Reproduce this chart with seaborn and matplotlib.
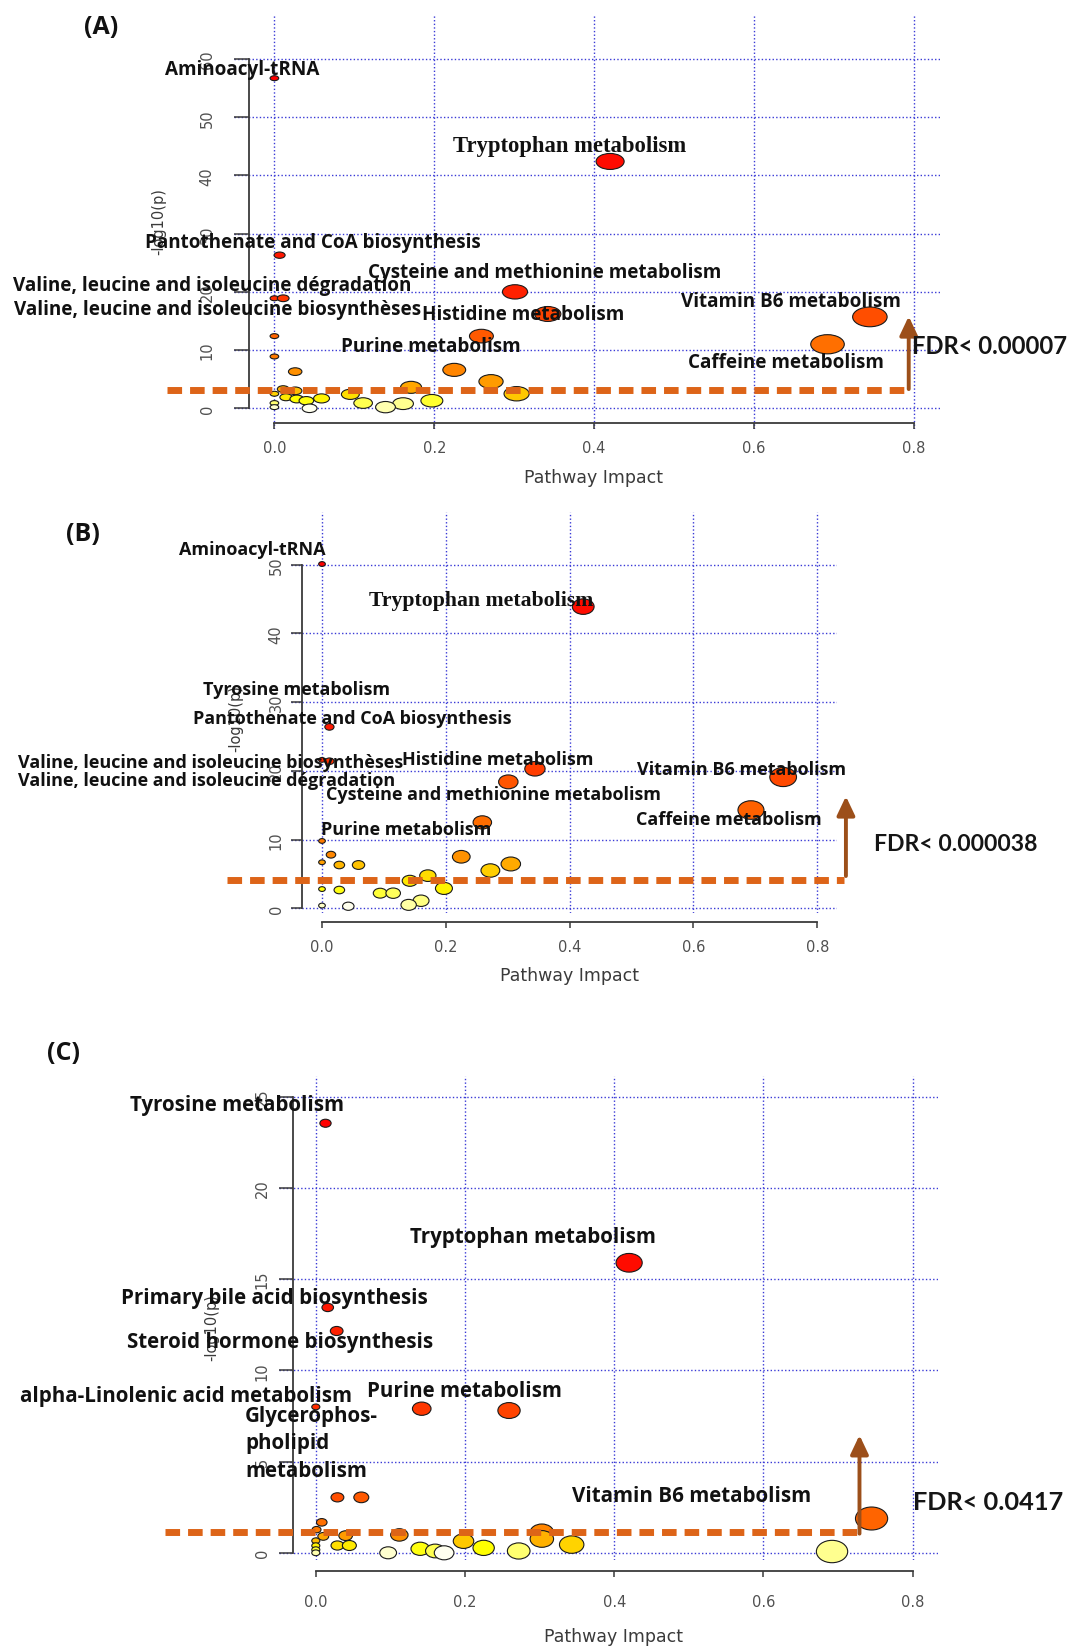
import colorsys
import numpy as np
import pandas as pd
import matplotlib
matplotlib.use("Agg")
import matplotlib.pyplot as plt
import seaborn as sns
from matplotlib.path import Path
from matplotlib.transforms import Affine2D

# ---------------------------------------------------------------- data
x_ticks = [0.0, 0.2, 0.4, 0.6, 0.8]

# (A) pathway impact / -log10(p)
a_impact = [0.000, 0.420, 0.0065, 0.301, 0.000, 0.011, 0.342, 0.745, 0.259, 0.000,
            0.692, 0.000, 0.225, 0.026, 0.271, 0.171, 0.011, 0.026, 0.095, 0.303,
            0.000, 0.0145, 0.059, 0.028, 0.040, 0.197, 0.111, 0.161, 0.000, 0.139,
            0.000, 0.044]
a_logp = [56.7, 42.4, 26.3, 20.0, 18.9, 18.9, 16.2, 15.7, 12.4, 12.4,
          11.0, 8.9, 6.6, 6.3, 4.6, 3.6, 3.3, 3.0, 2.4, 2.5,
          2.5, 1.9, 1.7, 1.6, 1.3, 1.3, 0.9, 0.8, 0.9, 0.2,
          0.2, 0.0]
a_yticks = [0, 10, 20, 30, 40, 50, 60]
a_cutoff = 3.2
a_fdr = "FDR< 0.00007"

# (B)
b_impact = [0.000, 0.422, 0.012, 0.000, 0.012, 0.344, 0.745, 0.301, 0.693, 0.259,
            0.000, 0.0145, 0.225, 0.000, 0.305, 0.028, 0.059, 0.272, 0.171, 0.142,
            0.197, 0.000, 0.028, 0.094, 0.115, 0.160, 0.140, 0.000, 0.0425]
b_logp = [50.1, 43.9, 26.4, 21.6, 21.4, 20.3, 19.1, 18.4, 14.3, 12.5,
          9.8, 7.8, 7.5, 6.7, 6.45, 6.3, 6.3, 5.5, 4.75, 4.0,
          2.9, 2.8, 2.66, 2.2, 2.2, 1.1, 0.5, 0.4, 0.3]
b_yticks = [0, 10, 20, 30, 40, 50]
b_cutoff = 4.1
b_fdr = "FDR< 0.000038"

# (C)
c_impact = [0.013, 0.420, 0.016, 0.028, 0.000, 0.142, 0.259, 0.029, 0.061, 0.745,
            0.008, 0.001, 0.303, 0.112, 0.040, 0.010, 0.303, 0.000, 0.198, 0.029,
            0.045, 0.343, 0.000, 0.225, 0.140, 0.000, 0.160, 0.272, 0.692, 0.000,
            0.097, 0.172]
c_logp = [23.55, 15.9, 13.45, 12.16, 8.0, 7.9, 7.8, 3.04, 3.04, 1.88,
          1.67, 1.27, 1.12, 0.98, 0.94, 0.9, 0.76, 0.66, 0.64, 0.4,
          0.4, 0.45, 0.39, 0.27, 0.22, 0.17, 0.1, 0.1, 0.07, 0.0,
          0.0, 0.0]
c_yticks = [0, 5, 10, 15, 20, 25]
c_cutoff = 1.16
c_fdr = "FDR< 0.0417"

# pathway names: (text, x, y, font)
a_labels = [
    ("Aminoacyl-tRNA", -0.1374, 58.3, "sans"),
    ("Tryptophan metabolism", 0.2232, 45.1, "serif"),
    ("Pantothenate and CoA biosynthesis", -0.1615, 28.5, "sans"),
    ("Cysteine and methionine metabolism", 0.1177, 23.4, "sans"),
    ("Valine, leucine and isoleucine dégradation", -0.3269, 21.1, "sans"),
    ("Valine, leucine and isoleucine biosynthèses", -0.3260, 17.1, "sans"),
    ("Histidine metabolism", 0.1844, 16.2, "sans"),
    ("Purine metabolism", 0.0832, 10.75, "sans"),
    ("Vitamin B6 metabolism", 0.5090, 18.5, "sans"),
    ("Caffeine metabolism", 0.5173, 8.0, "sans"),
]
b_labels = [
    ("Aminoacyl-tRNA", -0.2310, 52.3, "sans"),
    ("Tryptophan metabolism", 0.0761, 44.8, "serif"),
    ("Tyrosine metabolism", -0.1930, 31.9, "sans"),
    ("Pantothenate and CoA biosynthesis", -0.2076, 27.7, "sans"),
    ("Valine, leucine and isoleucine biosynthèses", -0.4913, 21.3, "sans"),
    ("Histidine metabolism", 0.1296, 21.7, "sans"),
    ("Valine, leucine and isoleucine dégradation", -0.4913, 18.7, "sans"),
    ("Cysteine and methionine metabolism", 0.0071, 16.6, "sans"),
    ("Purine metabolism", -0.0016, 11.5, "sans"),
    ("Vitamin B6 metabolism", 0.5087, 20.3, "sans"),
    ("Caffeine metabolism", 0.5074, 13.0, "sans"),
]
c_labels = [
    ("Tyrosine metabolism", -0.2488, 24.58, "sans"),
    ("Tryptophan metabolism", 0.1260, 17.36, "sans"),
    ("Primary bile acid biosynthesis", -0.2609, 13.98, "sans"),
    ("Steroid hormone biosynthesis", -0.2535, 11.6, "sans"),
    ("alpha-Linolenic acid metabolism", -0.3970, 8.62, "sans"),
    ("Purine metabolism", 0.0682, 8.92, "sans"),
    ("Glycerophos-\npholipid\nmetabolism", -0.0946, 6.04, "sans"),
    ("Vitamin B6 metabolism", 0.3436, 3.13, "sans"),
]

# ---------------------------------------------------------------- layout
W, H, DPI = 1080, 1649, 100
panels = [
    dict(tag="(A)", tag_xy=(101, 27), impact=a_impact, logp=a_logp, yticks=a_yticks,
         cutoff=a_cutoff, fdr=a_fdr, labels=a_labels,
         box=(234, 15, 940, 430), x0=274.4, xppu=799.3, y0=409.3, yppu=5.822,
         yspine=248.6, xspine=424, ytick_len=14.6, ytick_pad=14, xtick_pad=8,
         aspect=1.75, label_size=13.6, serif_size=16.3, fdr_size=17.2,
         dash_x=(-0.1343, 0.7914), arrow=(0.7936, 3.3, 15.8), fdr_xy=(0.798, 10.75),
         ylab_xy=(-0.1441, 32.2), xlab_xy=(0.399, -11.8)),
    dict(tag="(B)", tag_xy=(83, 535), impact=b_impact, logp=b_logp, yticks=b_yticks,
         cutoff=b_cutoff, fdr=b_fdr, labels=b_labels,
         box=(291, 513, 837, 914), x0=322.0, xppu=619.0, y0=909.3, yppu=6.872,
         yspine=302.3, xspine=922.7, ytick_len=11.3, ytick_pad=5.4, xtick_pad=8,
         aspect=1.4, label_size=13.0, serif_size=15.7, fdr_size=16.6,
         dash_x=(-0.1535, 0.8433), arrow=(0.8464, 4.7, 16.3), fdr_xy=(0.891, 9.36),
         ylab_xy=(-0.139, 27.8), xlab_xy=(0.4006, -9.7)),
    dict(tag="(C)", tag_xy=(64, 1054), impact=c_impact, logp=c_logp, yticks=c_yticks,
         cutoff=c_cutoff, fdr=c_fdr, labels=c_labels,
         box=(279, 1077, 938, 1561), x0=315.8, xppu=746.0, y0=1553.8, yppu=18.24,
         yspine=292.7, xspine=1572.4, ytick_len=13.7, ytick_pad=6.7, xtick_pad=11.5,
         aspect=1.4, label_size=14.8, serif_size=14.8, fdr_size=18.3,
         dash_x=(-0.2021, 0.7304), arrow=(0.7288, 1.05, 6.45), fdr_xy=(0.801, 2.79),
         ylab_xy=(-0.139, 12.4), xlab_xy=(0.3997, -4.58)),
]

GRID = "#3a3ad6"
AXIS = "#3a3a3a"
TICKTXT = "#505050"
CUT = "#DD6418"
ARROW = "#9C4F1A"
LABEL_FONT = ["Open Sans", "DejaVu Sans"]
SERIF_FONT = ["Liberation Serif", "DejaVu Serif"]

sns.set_theme(style="white")
plt.rcParams["font.family"] = ["DejaVu Sans"]


def heat_colors(n):
    """Red -> yellow -> near-white ramp, in the manner of R's heat.colors()."""
    j = n // 4
    i = n - j
    cols = [colorsys.hsv_to_rgb(h, 1.0, 1.0) for h in np.linspace(0, 1 / 6, i)]
    if j > 0:
        cols += [colorsys.hsv_to_rgb(1 / 6, s, 1.0)
                 for s in np.linspace(1 - 1 / (2 * j), 1 / (2 * j), j)]
    return cols


def bubble_radius(impact):
    """Circle radius (in impact units) grows with sqrt(impact)."""
    sq = np.sqrt(np.asarray(impact, float))
    lo, hi = sq.min(), sq.max()
    r_max, r_min = (hi - lo) / 40, (hi - lo) / 160
    return r_min + (r_max - r_min) * (sq - lo) / (hi - lo)


fig = plt.figure(figsize=(W / DPI, H / DPI), dpi=DPI)
fig.patch.set_facecolor("white")

for p in panels:
    left, top, right, bottom = p["box"]
    ax = fig.add_axes([left / W, 1 - bottom / H, (right - left) / W, (bottom - top) / H])
    x0, xppu, y0, yppu = p["x0"], p["xppu"], p["y0"], p["yppu"]
    ax.set_xlim((left - x0) / xppu, (right - x0) / xppu)
    ax.set_ylim((y0 - bottom) / yppu, (y0 - top) / yppu)
    ax.set_facecolor("none")

    df = pd.DataFrame({"impact": p["impact"], "logp": p["logp"]})
    df = df.sort_values("logp", ascending=False, kind="stable").reset_index(drop=True)
    df["rank"] = np.arange(len(df))
    colors = heat_colors(len(df))
    palette = {k: colors[k] for k in df["rank"]}
    width_px = 2 * bubble_radius(df["impact"]) * xppu
    df["area"] = (width_px * 72 / DPI) ** 2
    amin, amax = df["area"].min(), df["area"].max()

    ellipse = Affine2D().scale(p["aspect"], 1.0).transform_path(Path.unit_circle())
    sns.scatterplot(data=df, x="impact", y="logp", hue="rank", palette=palette,
                    size="area", sizes=(amin, amax), size_norm=(amin, amax),
                    marker=ellipse, edgecolor="#1a1a1a", linewidth=0.8,
                    legend=False, ax=ax, zorder=3, clip_on=False)

    # grid and R-style detached axes
    ax.set_xticks(x_ticks)
    ax.set_xticklabels([f"{t:.1f}" for t in x_ticks])
    ax.set_yticks(p["yticks"])
    ax.set_yticklabels([str(t) for t in p["yticks"]])
    ax.grid(True, color=GRID, linestyle=(0, (1, 1.6)), linewidth=1.0)
    ax.set_axisbelow(True)
    for s in ("top", "right"):
        ax.spines[s].set_visible(False)
    ax.spines["left"].set_position(("data", (p["yspine"] - x0) / xppu))
    ax.spines["left"].set_bounds(p["yticks"][0], p["yticks"][-1])
    ax.spines["bottom"].set_position(("data", (y0 - p["xspine"]) / yppu))
    ax.spines["bottom"].set_bounds(x_ticks[0], x_ticks[-1])
    for s in ("left", "bottom"):
        ax.spines[s].set_color(AXIS)
        ax.spines[s].set_linewidth(1.3)
    ax.tick_params(axis="x", length=4.5, width=1.1, color=AXIS, direction="out",
                   pad=p["xtick_pad"], labelsize=10.5, labelcolor=TICKTXT, bottom=True)
    ax.tick_params(axis="y", length=p["ytick_len"] * 0.72, width=1.1, color=AXIS,
                   direction="out", pad=p["ytick_pad"], labelsize=10.5,
                   labelcolor=TICKTXT, labelrotation=90, left=True)
    for t in ax.get_yticklabels():
        t.set_verticalalignment("center")
    ax.set_xlabel("")
    ax.set_ylabel("")

    ax.text(*p["xlab_xy"], "Pathway Impact", ha="center", va="center", fontsize=12.5,
            color="#3a3a3a", clip_on=False)
    ax.text(*p["ylab_xy"], "-log10(p)", ha="center", va="center", rotation=90,
            fontsize=10.5, color="#3a3a3a", clip_on=False)

    # significance cut-off and arrow
    ax.plot(p["dash_x"], [p["cutoff"], p["cutoff"]], color=CUT, lw=5,
            dashes=(2.1, 1.15), solid_capstyle="butt", dash_capstyle="butt",
            zorder=4, clip_on=False)
    ax_x, ay0, ay1 = p["arrow"]
    ax.annotate("", xy=(ax_x, ay1), xytext=(ax_x, ay0), annotation_clip=False,
                arrowprops=dict(arrowstyle="-|>,head_length=0.95,head_width=0.45",
                                color=ARROW, lw=2.8, shrinkA=0, shrinkB=0),
                zorder=5)
    ax.text(*p["fdr_xy"], p["fdr"], ha="left", va="center", fontsize=p["fdr_size"],
            family=["Lato", "DejaVu Sans"], weight="bold", color="#151515",
            clip_on=False, zorder=6)

    for text, lx, ly, kind in p["labels"]:
        if kind == "serif":
            ax.text(lx, ly, text, ha="left", va="center", fontsize=p["serif_size"],
                    family=SERIF_FONT, weight="bold", color="#111111",
                    clip_on=False, zorder=6)
        else:
            ax.text(lx, ly, text, ha="left", va="center", fontsize=p["label_size"],
                    family=LABEL_FONT, weight="bold", color="#111111",
                    linespacing=1.4, clip_on=False, zorder=6)

    fig.text(p["tag_xy"][0] / W, 1 - p["tag_xy"][1] / H, p["tag"], ha="center",
             va="center", fontsize=18, family=LABEL_FONT, weight="bold",
             color="#111111")

fig.savefig("out.png", dpi=DPI, facecolor="white")
